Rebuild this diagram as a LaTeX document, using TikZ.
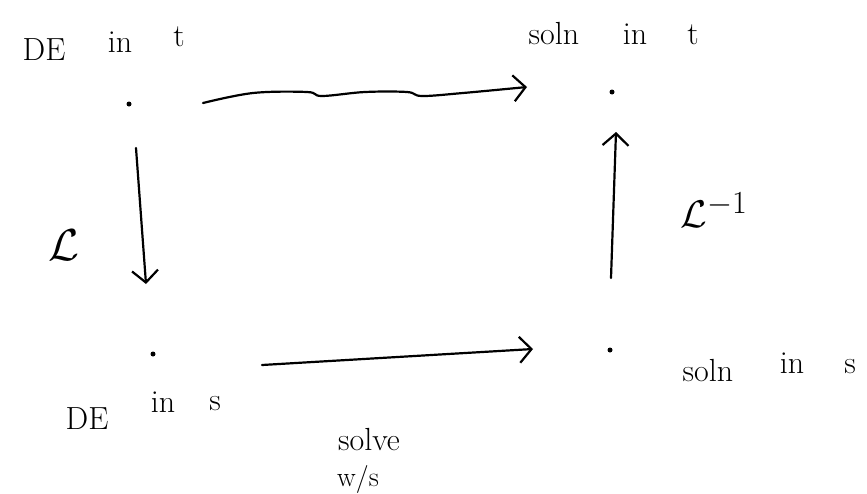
\documentclass[tikz,border=0pt]{standalone}
\usepackage{graphicx}
\usetikzlibrary{arrows.meta}
\begin{document}
\begin{tikzpicture}[x=1pt,y=-1pt,
  ink/.style={line width=2.2pt, line cap=round, line join=round},
  arr/.style={ink, -{Straight Barb[length=12pt,width=26pt,line width=2.2pt]}},
  dot/.style={circle, fill=black, inner sep=0pt, minimum size=5pt},
  lbl/.style={inner sep=0pt, font=\fontsize{32}{36}\selectfont},
  sym/.style={inner sep=0pt, font=\fontsize{24.88}{28}\selectfont}]
\useasboundingbox (0,0) rectangle (867,493);
% dots
\node[dot] (tl) at (129,104) {};
\node[dot] (tr) at (612,92) {};
\node[dot] (bl) at (153,354) {};
\node[dot] (br) at (610,350) {};
% labels
\node[lbl] (de1) at (44,50) {DE};
\node[lbl] (in1) at (120,42) {in};
\node[lbl] (t1) at (179,37) {t};
\node[lbl] (so1) at (554,34) {soln};
\node[lbl] (in2) at (635,34) {in};
\node[lbl] (t2) at (693,35) {t};
\node[lbl] (de2) at (87,419) {DE};
\node[lbl] (in3) at (163,402) {in};
\node[lbl] (s1) at (215,404) {s};
\node[lbl] (so2) at (708,371) {soln};
\node[lbl] (in4) at (792,363) {in};
\node[lbl] (s2) at (850,367) {s};
\node[lbl] (solve) at (369,440) {solve};
\node[lbl, anchor=base, font=\fontsize{28}{32}\selectfont] (ws) at (358,486) {w/s};
\node[sym] (L) at (64,245) {\scalebox{1.8}{$\mathcal{L}$}};
\node[sym] (Linv) at (714,210) {\scalebox{1.55}{$\mathcal{L}^{-1}$}};
% connector end points
\coordinate (w0) at (203,103);
\coordinate (w1) at (253,93);
\coordinate (w2) at (307,92);
\coordinate (w3) at (322,96);
\coordinate (w4) at (365,92);
\coordinate (w5) at (407,92);
\coordinate (w6) at (422,96);
\coordinate (w7) at (463,93);
\coordinate (w8) at (527,87);
\coordinate (d0) at (136,148);
\coordinate (d1) at (146,284);
\coordinate (u0) at (611,278);
\coordinate (u1) at (616,132);
\coordinate (b0) at (262,365);
\coordinate (b1) at (533,349);
% connectors
\draw[arr] plot[smooth, tension=0.6] coordinates {(w0) (w1) (w2) (w3) (w4) (w5) (w6) (w7) (w8)};
\draw[arr] (d0) -- (d1);
\draw[arr] (u0) -- (u1);
\draw[arr] (b0) -- (b1);
\end{tikzpicture}
\end{document}
